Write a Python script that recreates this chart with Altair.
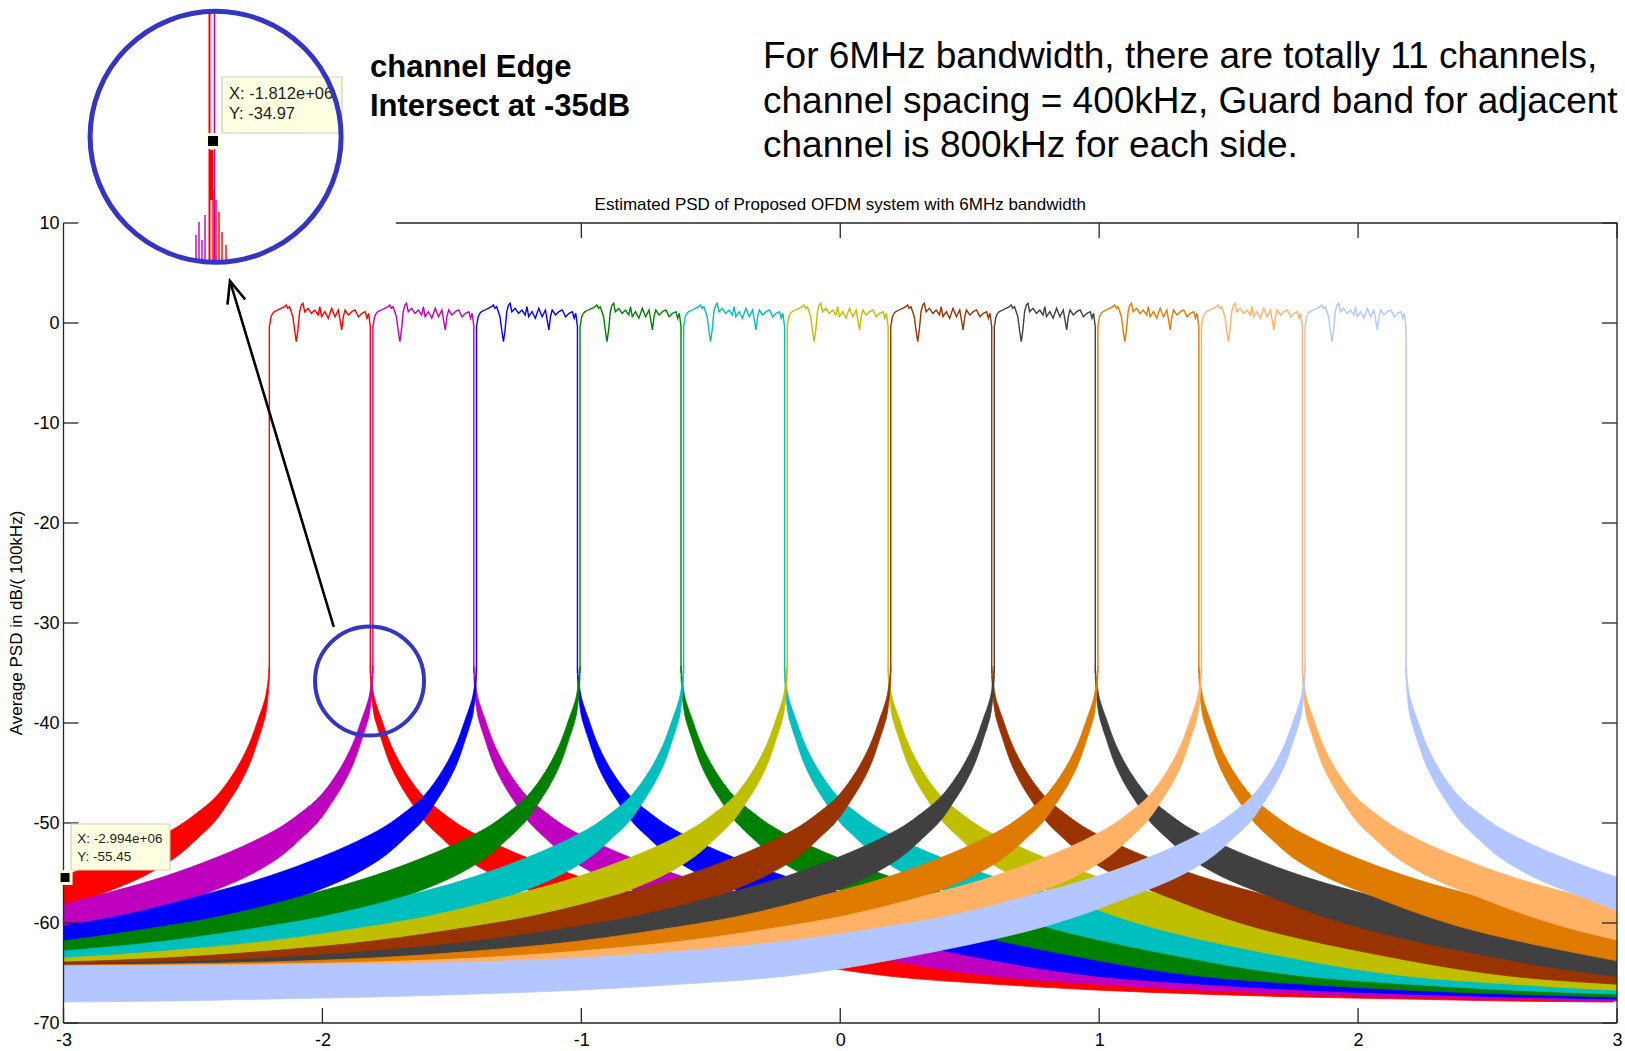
import altair as alt
import pandas as pd

# ---------------- data ----------------
CHANNEL_START = [-2.205, -1.805, -1.405, -1.005, -0.605, -0.205, 0.195, 0.595, 0.995, 1.395, 1.795]
CHANNEL_STOP = [-1.815, -1.415, -1.015, -0.615, -0.215, 0.185, 0.585, 0.985, 1.385, 1.785, 2.185]
CHANNEL_COLORS = ["#FF0000", "#BF00BF", "#0000FF", "#008000", "#00BFBF", "#BFBF00",
                  "#993300", "#404040", "#DE7B00", "#FFB266", "#B3C6FF"]
EDGE_PEAK_DB = -35.0

# in-band ripple (fraction of channel width, dB)
INBAND_FRAC = [0.000, 0.017, 0.033, 0.050, 0.083, 0.117, 0.150, 0.167, 0.183, 0.200, 0.217,
               0.233, 0.250, 0.267, 0.283, 0.300, 0.317, 0.333, 0.350, 0.383, 0.417, 0.450,
               0.483, 0.500, 0.517, 0.550, 0.583, 0.617, 0.650, 0.683, 0.717, 0.733, 0.750,
               0.783, 0.817, 0.850, 0.883, 0.917, 0.950, 0.967, 0.983, 1.000]
INBAND_DB = [-0.37, 0.63, 0.97, 1.13, 1.30, 1.47, 1.63, 1.80, 1.47, 1.63, 1.13,
             0.63, -0.70, -1.87, -0.70, 1.13, 1.80, 1.97, 1.13, 1.47, 0.97, 1.30,
             0.80, 1.63, 0.63, 1.13, 0.47, 1.47, 0.63, 1.30, -0.70, 0.63, 1.30,
             0.80, 1.13, 1.30, 0.63, 0.97, 1.13, 0.47, 0.97, -0.37]

# out-of-band emission envelope vs distance from the channel edge (MHz, dB)
OOB_DIST = [0.0, 0.004, 0.012, 0.025, 0.04, 0.07, 0.11, 0.15, 0.2, 0.28,
            0.35, 0.42, 0.5, 0.6, 0.7, 0.8, 0.9, 1.0, 1.2, 1.4,
            1.6, 1.8, 2.0, 2.4, 2.8, 3.2, 3.6, 4.0, 4.4, 4.8]
OOB_UPPER = [-34.3, -35.5, -37.0, -38.3, -39.4, -41.6, -43.8, -45.5, -47.2, -49.0,
             -50.3, -51.3, -52.3, -53.4, -54.4, -55.3, -56.1, -56.8, -58.2, -59.4,
             -60.3, -61.1, -61.8, -62.8, -63.5, -63.9, -64.1, -64.2, -64.3, -64.3]
OOB_LOWER = [-35.5, -37.0, -38.8, -40.2, -41.4, -43.7, -45.9, -47.6, -49.5, -51.6,
             -53.2, -54.4, -55.5, -56.6, -57.6, -58.6, -59.5, -60.3, -61.6, -62.7,
             -63.7, -64.6, -65.3, -66.1, -66.7, -67.1, -67.4, -67.6, -67.8, -67.9]

X_TICKS = [-3, -2, -1, 0, 1, 2, 3]
Y_TICKS = [10, 0, -10, -20, -30, -40, -50, -60, -70]

TIP_EDGE_X = [-1.812e6]
TIP_EDGE_Y = [-34.97]
TIP_LEFT_X = [-2.994e6]
TIP_LEFT_Y = [-55.45]

TITLE = "Estimated PSD of Proposed OFDM system with 6MHz bandwidth"
Y_TITLE = "Average PSD in dB/( 100kHz)"
NOTE_BOLD = ["channel Edge", "Intersect at -35dB"]
NOTE_TEXT = ["For 6MHz bandwidth, there are totally 11 channels,",
             "channel spacing = 400kHz, Guard band for adjacent",
             "channel is 800kHz for each side."]

# ---------------- layout / style ----------------
FONT = "Liberation Sans"
OX, OY = 63.5, 223.0          # plot origin on the page
W, H = 1553.5, 800.0          # plot area
AXC = "#262626"
RING = "#3535C5"
TIPFILL = "#FFFFE1"
TIPSTROKE = "#CFCFBE"


def px(x):
    return x - OX


def py(y):
    return y - OY


XS = alt.Scale(domain=[-3, 3], nice=False, zero=False)
YS = alt.Scale(domain=[-70, 10], nice=False, zero=False)
XA = alt.Axis(values=X_TICKS, ticks=False, tickSize=0, domain=False, grid=False,
              labelPadding=8, labelFontSize=18, labelFont=FONT, labelColor="black",
              labelFlush=False, labelOverlap=False, labelExpr="'' + datum.value", title=None)
YA = alt.Axis(values=Y_TICKS, ticks=False, tickSize=0, domain=False, grid=False,
              labelPadding=4.5, labelFontSize=18, labelFont=FONT, labelColor="black",
              labelFlush=False, labelOverlap=False, labelExpr="'' + datum.value", title=None)


def X(f):
    return alt.X(f, type="quantitative", scale=XS, axis=XA)


def Y(f):
    return alt.Y(f, type="quantitative", scale=YS, axis=YA)


one = pd.DataFrame({"k": [0]})


def seg(x1, y1, x2, y2, color, width):
    return alt.Chart(one).mark_rule(color=color, strokeWidth=width).encode(
        x=alt.value(px(x1)), y=alt.value(py(y1)), x2=alt.value(px(x2)), y2=alt.value(py(y2)))


def text_at(s, x, y, size, weight="normal", align="left", color="black", angle=None):
    kw = dict(text=s, fontSize=size, fontWeight=weight, align=align, baseline="middle",
              color=color, font=FONT)
    if angle is not None:
        kw["angle"] = angle
    return alt.Chart(one).mark_text(**kw).encode(x=alt.value(px(x)), y=alt.value(py(y)))


layers = []

# ---------------- channels ----------------
for i, col in enumerate(CHANNEL_COLORS):
    a0, a1 = CHANNEL_START[i], CHANNEL_STOP[i]
    rows = []
    for d, u, l in zip(OOB_DIST, OOB_UPPER, OOB_LOWER):
        rows.append({"x": a0 - d, "up": u, "lo": l, "side": "L"})
        rows.append({"x": a1 + d, "up": u, "lo": l, "side": "R"})
    area_df = pd.DataFrame(rows)
    line_rows = [{"seq": 0, "x": a0, "db": EDGE_PEAK_DB}]
    for k, (f, v) in enumerate(zip(INBAND_FRAC, INBAND_DB)):
        line_rows.append({"seq": k + 1, "x": a0 + f * (a1 - a0), "db": v})
    line_rows.append({"seq": len(INBAND_FRAC) + 1, "x": a1, "db": EDGE_PEAK_DB})
    line_df = pd.DataFrame(line_rows)

    layers.append(
        alt.Chart(area_df).mark_area(color=col, opacity=1, clip=True, stroke=col, strokeWidth=0.8,
                                     interpolate="monotone").encode(
            x=X("x"), y=Y("up"), y2="lo:Q", detail="side:N"))
    layers.append(
        alt.Chart(line_df).mark_line(color=col, strokeWidth=1.4, clip=True).encode(
            x=X("x"), y=Y("db"), order="seq:Q"))

# ---------------- frame and inward ticks ----------------
layers.append(seg(OX, OY, OX, OY + H, AXC, 1.3))
layers.append(seg(OX, OY + H, OX + W, OY + H, AXC, 1.3))
layers.append(seg(OX + W, OY, OX + W, OY + H, AXC, 1.3))
layers.append(seg(396, OY, OX + W, OY, AXC, 1.3))

xt = pd.DataFrame({"v": X_TICKS})
xt_top = pd.DataFrame({"v": [v for v in X_TICKS if v > -1.7]})
yt = pd.DataFrame({"v": Y_TICKS})
TL = 15
layers.append(alt.Chart(xt).mark_rule(color=AXC, strokeWidth=1.3).encode(
    x=X("v"), y=alt.value(H - TL), y2=alt.value(H)))
layers.append(alt.Chart(xt_top).mark_rule(color=AXC, strokeWidth=1.3).encode(
    x=X("v"), y=alt.value(0), y2=alt.value(TL)))
layers.append(alt.Chart(yt).mark_rule(color=AXC, strokeWidth=1.3).encode(
    y=Y("v"), x=alt.value(0), x2=alt.value(TL)))
layers.append(alt.Chart(yt).mark_rule(color=AXC, strokeWidth=1.3).encode(
    y=Y("v"), x=alt.value(W - TL), x2=alt.value(W)))

# ---------------- small circle + arrow ----------------
layers.append(alt.Chart(pd.DataFrame({"x": [-1.818], "y": [-35.8]})).mark_point(
    shape="circle", size=109 ** 2, filled=False, stroke=RING, strokeWidth=4, opacity=1).encode(
    x=X("x"), y=Y("y")))
layers.append(alt.Chart(pd.DataFrame({"x": [-1.956, -2.357], "y": [-30.4, 4.2], "o": [0, 1]})).mark_line(
    color="black", strokeWidth=2.6).encode(x=X("x"), y=Y("y"), order="o:Q"))
layers.append(alt.Chart(pd.DataFrame({"x": [-2.357], "y": [4.2]})).mark_point(
    shape="M -0.42 1 L 0 0 L 0.42 1", angle=343.3, size=44 ** 2, filled=False,
    stroke="black", strokeWidth=2.6, opacity=1).encode(x=X("x"), y=Y("y")))

# ---------------- bottom-left data tip ----------------
tip_x = TIP_LEFT_X[0] / 1e6
tip_y = TIP_LEFT_Y[0]
layers.append(alt.Chart(pd.DataFrame({"x": [-2.971], "x2": [-2.589], "y": [-50.1], "y2": [-54.7]})).mark_rect(
    fill=TIPFILL, stroke=TIPSTROKE, strokeWidth=1.2).encode(x=X("x"), x2="x2:Q", y=Y("y"), y2="y2:Q"))
layers.append(alt.Chart(pd.DataFrame({"x": [-2.947, -2.947], "y": [-51.6, -53.4],
                                      "t": [f"X: {TIP_LEFT_X[0]:.3e}", f"Y: {TIP_LEFT_Y[0]}"]})).mark_text(
    align="left", baseline="middle", fontSize=13.5, font=FONT, color="#222222").encode(
    x=X("x"), y=Y("y"), text="t:N"))
layers.append(alt.Chart(pd.DataFrame({"x": [tip_x], "y": [tip_y]})).mark_point(
    shape="square", size=144, filled=True, fill="black", stroke=TIPFILL, strokeWidth=3, opacity=1).encode(
    x=X("x"), y=Y("y")))

# ---------------- inset (zoomed view of the channel edge) ----------------
layers.append(seg(214.5, 12, 214.5, 262, "#BF00BF", 1.6))
layers.append(seg(209.5, 12, 209.5, 262, "#FF0000", 2.0))
layers.append(seg(211.5, 150, 211.5, 200, "#FF0000", 3.0))
for xs, ys in [(196, 235), (199, 222), (202, 240), (205, 215)]:
    layers.append(seg(xs, ys, xs, 262, "#BF00BF", 1.4))
for xs, ys in [(213, 190), (216, 200), (219, 212), (222, 232), (226, 245)]:
    layers.append(seg(xs, ys, xs, 262, "#FF0000", 1.4))
layers.append(alt.Chart(one).mark_rect(fill=TIPFILL, stroke=TIPSTROKE, strokeWidth=1.2).encode(
    x=alt.value(px(222)), x2=alt.value(px(342)), y=alt.value(py(77)), y2=alt.value(py(133))))
layers.append(text_at(f"X: {TIP_EDGE_X[0]:.3e}", 229, 94, 16.5, color="#222222"))
layers.append(text_at(f"Y: {TIP_EDGE_Y[0]}", 229, 114, 16.5, color="#222222"))
layers.append(alt.Chart(one).mark_point(shape="square", size=169, filled=True, fill="black",
                                        stroke=TIPFILL, strokeWidth=3, opacity=1).encode(
    x=alt.value(px(213)), y=alt.value(py(141))))
layers.append(alt.Chart(one).mark_point(shape="circle", size=251 ** 2, filled=False, stroke=RING,
                                        strokeWidth=5, opacity=1).encode(
    x=alt.value(px(215.6)), y=alt.value(py(136.8))))

# ---------------- texts ----------------
layers.append(text_at(NOTE_BOLD[0], 370, 68, 31, weight="bold"))
layers.append(text_at(NOTE_BOLD[1], 370, 106.5, 31, weight="bold"))
for k, s in enumerate(NOTE_TEXT):
    layers.append(text_at(s, 763, 57 + 44.6 * k, 37))
layers.append(text_at(TITLE, OX + W / 2, 205, 17, align="center"))
layers.append(text_at(Y_TITLE, 16.5, OY + H / 2, 17, align="center", angle=270))

chart = alt.layer(*layers).properties(
    width=W, height=H,
    autosize=alt.AutoSizeParams(type="none"),
    padding={"left": OX, "top": OY, "right": 8, "bottom": 28},
    background="white",
).configure_view(stroke=None)

chart.save("out.html", embed_options={"renderer": "svg", "actions": False})
